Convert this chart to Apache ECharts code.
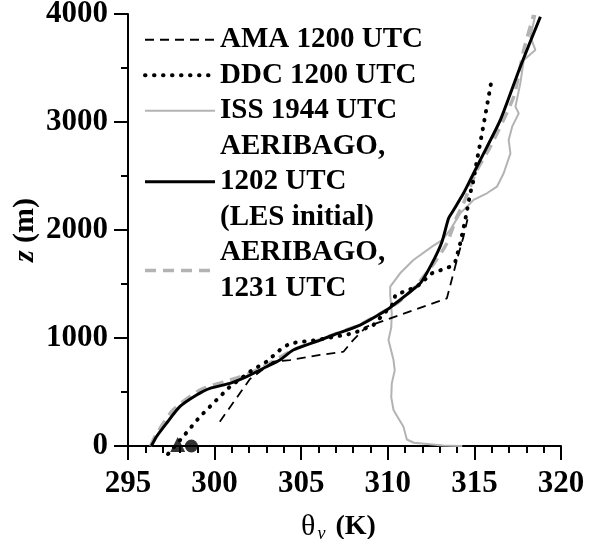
<!DOCTYPE html>
<html>
<head>
<meta charset="utf-8">
<script src="https://cdn.jsdelivr.net/npm/echarts@6/dist/echarts.min.js"></script>
<style>
  html, body { margin: 0; padding: 0; background: #fff; }
  #chart { width: 592px; height: 539px; }
</style>
</head>
<body>
<div id="chart"></div>
<script>
// ── data: [theta_v (K), z (m)] ───────────────────────────
const xTicks = [295, 300, 305, 310, 315, 320]
const yTicks = [0, 1000, 2000, 3000, 4000]

const amaName  = 'AMA 1200 UTC'
const ddcName  = 'DDC 1200 UTC'
const issName  = 'ISS 1944 UTC'
const aer1Name = 'AERIBAGO,\n1202 UTC\n(LES initial)'
const aer2Name = 'AERIBAGO,\n1231 UTC'

const ama = [
  [300.3, 225], [302.04, 620], [303.39, 781], [304.35, 796], [306.09, 843],
  [307.44, 873], [308.0, 981], [308.78, 1105], [313.41, 1367], [313.99, 1722],
  [314.37, 1938], [314.6, 2100],
]

const ddc = [
  [297.31, -74], [298.18, 86], [299.15, 271], [300.11, 426], [300.88, 549],
  [302.04, 688], [303.0, 781], [303.77, 889], [304.35, 951], [305.9, 981],
  [308.0, 1043], [309.17, 1120], [310.33, 1321], [310.43, 1398], [311.68, 1475],
  [312.55, 1599], [313.6, 1660], [313.9, 1707], [314.18, 1877], [314.47, 2093],
  [314.76, 2340], [314.95, 2463], [315.15, 2648], [315.44, 2895], [316.0, 3395],
]

const iss = [
  [314.3, 0], [313.2, 5], [311.5, 30], [311.1, 60], [310.9, 180], [310.6, 260],
  [310.33, 333], [310.2, 450], [310.23, 580], [310.4, 700], [310.33, 796],
  [310.04, 981], [310.2, 1100], [310.23, 1228], [310.14, 1400], [310.14, 1475],
  [310.71, 1599], [311.48, 1722], [312.55, 1846], [313.13, 1907], [313.6, 2000],
  [314.18, 2154], [314.95, 2278], [315.72, 2340], [316.3, 2401], [316.69, 2525],
  [317.08, 2710], [316.98, 2833], [317.18, 2957], [317.56, 3080], [317.37, 3142],
  [317.65, 3358], [317.85, 3574], [318.52, 3667], [318.23, 3790], [318.52, 3991],
]

const aer1202 = [
  [296.35, 0], [296.64, 86], [297.22, 210], [297.99, 364], [298.96, 472],
  [299.73, 534], [300.88, 580], [301.85, 642], [303.0, 734], [303.77, 796],
  [304.54, 889], [306.09, 981], [306.86, 1028], [308.4, 1120], [309.94, 1259],
  [310.33, 1306], [311.87, 1506], [312.55, 1691], [313.13, 1892], [313.51, 2108],
  [313.8, 2185], [314.37, 2340], [314.76, 2463], [315.34, 2648], [316.5, 3019],
  [317.65, 3512], [318.81, 3975],
]

const aer1231 = [
  [296.3, 0], [296.6, 100], [297.6, 333], [299.15, 518], [300.88, 611],
  [301.85, 660], [303.0, 750], [304.54, 889], [306.09, 985], [308.4, 1125],
  [309.94, 1262], [310.6, 1330], [311.6, 1480], [312.67, 1691], [313.41, 1877],
  [313.99, 2123], [314.37, 2247], [315.15, 2556], [315.92, 2771], [317.27, 3234],
  [317.85, 3667], [318.42, 3991],
]

const triangleMark = [[297.87, 15]]
const circleMark   = [[298.66, 0]]

// ── styles ───────────────────────────────────────────────
const FONT = 'Liberation Serif'
const GRAY = '#b3b3b3'

const STYLE_AMA  = { color: '#000', width: 1.8, type: [9, 6] }
const STYLE_DDC  = { color: '#000', width: 4, type: [0.5, 8.5], cap: 'round' }
const STYLE_ISS  = { color: GRAY, width: 2 }
const STYLE_AER1 = { color: '#000', width: 3 }
const STYLE_AER2 = { color: GRAY, width: 3.5, type: [11, 7] }

const axisLine = { show: true, onZero: false, lineStyle: { color: '#000', width: 2 } }
const axisTick = { show: true, length: 14, lineStyle: { color: '#000', width: 2 } }
const tickLabel = { fontFamily: FONT, fontSize: 31, fontWeight: 'bold', color: '#000' }

const lineBase = (name, data, lineStyle, extra) => Object.assign({
  name, type: 'line', data, symbol: 'none',
  lineStyle: Object.assign({}, lineStyle),
  itemStyle: { color: lineStyle.color },
}, extra || {})

const legendItem = (name, ls) => ({
  name,
  itemStyle: { opacity: 0 },
  lineStyle: { color: ls.color, width: ls.width, type: ls.type || 'solid', cap: ls.cap || 'butt' },
})

const chart = echarts.init(document.getElementById('chart'))

chart.setOption({
  animation: false,
  backgroundColor: '#fff',
  textStyle: { fontFamily: FONT },
  grid: { left: 128, right: 31, top: 14, bottom: 93, containLabel: false, outerBoundsMode: 'none' },
  legend: {
    orient: 'vertical', left: 138, top: 17,
    itemWidth: 70, itemHeight: 14, itemGap: 0,
    selectedMode: false,
    itemStyle: { opacity: 0 },
    data: [
      legendItem(amaName, STYLE_AMA),
      legendItem(ddcName, STYLE_DDC),
      legendItem(issName, STYLE_ISS),
      legendItem(aer1Name, STYLE_AER1),
      legendItem(aer2Name, STYLE_AER2),
    ],
    textStyle: { fontFamily: FONT, fontSize: 29, fontWeight: 'bold', color: '#000', lineHeight: 35.5 },
  },
  xAxis: {
    type: 'value', min: xTicks[0], max: xTicks[xTicks.length - 1], interval: 5,
    axisLine, axisTick,
    splitLine: { show: false },
    minorTick: { show: true, splitNumber: 5, length: 7, lineStyle: { color: '#000', width: 2 } },
    axisLabel: Object.assign({ margin: 22 }, tickLabel),
    name: '{t|θ}{s|v}{k| (K)}',
    nameLocation: 'middle', nameGap: 65, nameMoveOverlap: false,
    nameTextStyle: {
      padding: [0, 12, 0, 0],
      rich: {
        t: { fontFamily: FONT, fontSize: 30, color: '#000' },
        s: { fontFamily: FONT, fontSize: 18, fontStyle: 'italic', color: '#000', padding: [14, 3, 0, 2] },
        k: { fontFamily: FONT, fontSize: 28, fontWeight: 'bold', color: '#000' },
      },
    },
  },
  yAxis: {
    type: 'value', min: yTicks[0], max: yTicks[yTicks.length - 1], interval: 1000,
    axisLine, axisTick,
    splitLine: { show: false },
    minorTick: { show: true, splitNumber: 2, length: 7, lineStyle: { color: '#000', width: 2 } },
    axisLabel: Object.assign({ margin: 20, formatter: v => String(v) }, tickLabel),
    name: '{z|z}{m| (m)}',
    nameLocation: 'middle', nameGap: 88, nameMoveOverlap: false,
    nameTextStyle: {
      rich: {
        z: { fontFamily: FONT, fontSize: 30, fontWeight: 'bold', fontStyle: 'italic', color: '#000' },
        m: { fontFamily: FONT, fontSize: 30, fontWeight: 'bold', color: '#000' },
      },
    },
  },
  series: [
    lineBase(issName, iss, STYLE_ISS),
    lineBase(aer2Name, aer1231, STYLE_AER2, { smooth: 0.2 }),
    lineBase(amaName, ama, STYLE_AMA),
    lineBase(ddcName, ddc, STYLE_DDC, { clip: false }),
    lineBase(aer1Name, aer1202, STYLE_AER1, { smooth: 0.2 }),
    { name: 'tri', type: 'scatter', data: triangleMark, symbol: 'triangle', symbolSize: 15,
      itemStyle: { color: '#000' }, clip: false, silent: true, z: 10 },
    { name: 'dot', type: 'scatter', data: circleMark, symbol: 'circle', symbolSize: 13,
      itemStyle: { color: '#000' }, clip: false, silent: true, z: 10 },
  ],
})
</script>
</body>
</html>
